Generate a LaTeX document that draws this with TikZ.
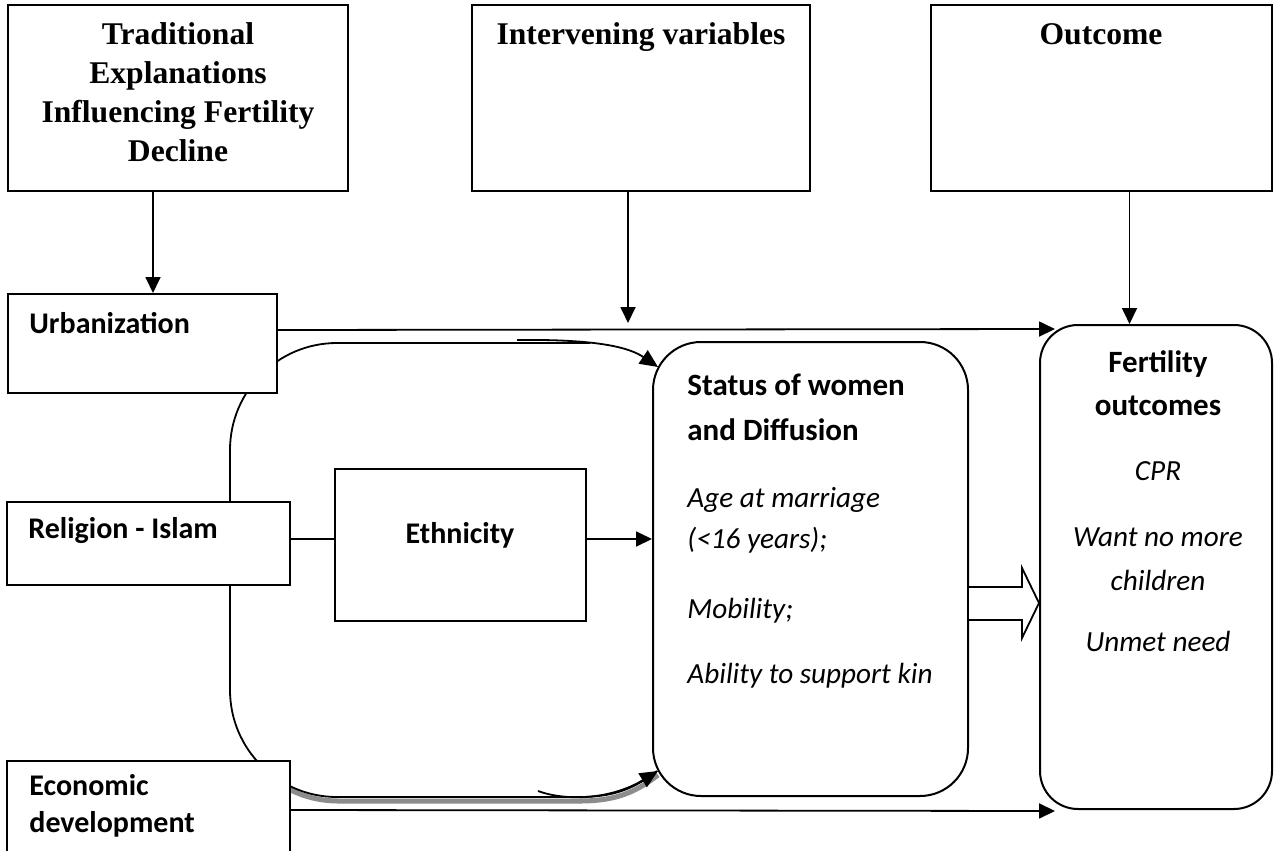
\documentclass[tikz,border=0pt]{standalone}
\usepackage{fontspec}
\setmainfont{Liberation Serif}
\newfontfamily\sans{Carlito}
\usetikzlibrary{fit,arrows.meta,calc}
\begin{document}
\begin{tikzpicture}[x=0.5pt,y=-0.5pt,
  box/.style={draw, line width=1pt, inner sep=0pt, fill=white},
  rbox/.style={draw, line width=1pt, inner sep=0pt, fill=white},
  htext/.style={font=\bfseries\fontsize{15.8}{19.5}\selectfont, align=center, inner sep=0pt},
  ltext/.style={font=\sans\bfseries\fontsize{15}{18.5}\selectfont, align=left, inner sep=0pt},
  itext/.style={font=\sans\itshape\fontsize{14.6}{20.5}\selectfont, inner sep=0pt},
  conn/.style={line width=0.9pt},
  arr/.style={line width=0.9pt, -{Triangle[length=8pt,width=7.5pt]}},
  carr/.style={line width=0.9pt, -{Triangle[length=9pt,width=8pt]}},
]
\useasboundingbox (0,0) rectangle (1277,850);
\fill[white] (0,0) rectangle (1277,850);

% big rounded background shape with shadow
\begin{scope}
  \clip (290,700) rectangle (700,850);
  \draw[gray!90, line width=2.5pt, shift={(1,4)}, rounded corners=53.5pt]
    (230,600) -- (230,797) -- (580,797);
  \draw[gray!90, line width=2.5pt, shift={(1,4)}]
    (579,797) .. controls (615,797) and (635,788) .. (657,771);
\end{scope}
\draw[conn, rounded corners=53.5pt] (590,343) -- (230,343) -- (230,797) -- (581,797);
\draw[conn] (580,797) .. controls (615,797) and (635,788) .. (657,771);

% left boxes
\node[box, fit={(8,294) (277,393)}] (urban) {};
\node[box, fit={(7,502) (290,585)}] (relig) {};
\node[box, fit={(7,761) (290,860)}] (econ) {};
\node[box, fit={(335,469) (586,621)}] (eth) {};

\node[ltext, anchor=base west] (urbant) at (29,333) {Urbanization};
\node[ltext, anchor=base west] (religt) at (28,538) {Religion - Islam};
\node[ltext, anchor=base west] (econt) at (29,832) {Economic\\development};
\node[ltext, anchor=base] (etht) at (460,543) {Ethnicity};

% top boxes
\node[box, fit={(8,5) (348,191)}] (b1) {};
\node[box, fit={(472,5) (810,191)}] (b2) {};
\node[box, fit={(931,5) (1272,191)}] (b3) {};
\node[htext, anchor=base] (b1t) at (178,162) {Traditional\\Explanations\\Influencing Fertility\\Decline};
\node[htext, anchor=base] (b2t) at (641,45) {Intervening variables};
\node[htext, anchor=base] (b3t) at (1101,45) {Outcome};

% curved arrows into status box
\draw[carr] (517,340) .. controls (600,339) and (630,348) .. (658,367);
\draw[carr] (538,791) .. controls (565,801) and (610,800) .. (658,771);

% status and fertility boxes
\node[rbox, rounded corners=24pt, fit={(653,342) (968,796)}] (status) {};
\node[rbox, rounded corners=19pt, fit={(1040,325) (1272,809)}] (fert) {};

\node[ltext, anchor=base west, font=\sans\bfseries\fontsize{15.5}{22.5}\selectfont] (statt) at (687,440) {Status of women\\and Diffusion};
\node[itext, anchor=base west, align=left] (age) at (687,548) {Age at marriage\\(<16 years);};
\node[itext, anchor=base west] (mob) at (687,618) {Mobility;};
\node[itext, anchor=base west] (abil) at (687,683) {Ability to support kin};

\node[ltext, anchor=base, align=center, font=\sans\bfseries\fontsize{15.5}{21.5}\selectfont] (fertt) at (1158,415) {Fertility\\outcomes};
\node[itext, anchor=base] (cpr) at (1158,480) {CPR};
\node[itext, anchor=base, align=center, font=\sans\itshape\fontsize{14.6}{22}\selectfont] (want) at (1158,590) {Want no more\\children};
\node[itext, anchor=base] (unmet) at (1158,651) {Unmet need};

% connectors
\coordinate (ivtip) at (628,323);
\draw[arr] ([xshift=-12.5pt]b1.south) -- ([xshift=-12.5pt]b1.south |- urban.north);
\draw[arr] ([xshift=-6.5pt]b2.south) -- (ivtip);
\draw[arr] ([xshift=14pt]b3.south) -- ([xshift=14pt]b3.south |- fert.north);
\draw[arr] (urban.east |- 0,330) -- ($(fert.north west)+(16,5)$);
\draw[arr] (econ.east |- 0,810) -- ($(fert.south west)+(16,1)$);
\draw[conn] (relig.east |- 0,539) -- (eth.west |- 0,539);
\draw[arr] (eth.east |- 0,539) -- (status.west |- 0,539);

% block arrow
\draw[line width=0.9pt, fill=white] (status.east |- 0,587) -- (1022,587) -- (1022,568) -- (fert.west |- 0,603) -- (1022,638) -- (1022,620) -- (status.east |- 0,620);
\end{tikzpicture}
\end{document}
